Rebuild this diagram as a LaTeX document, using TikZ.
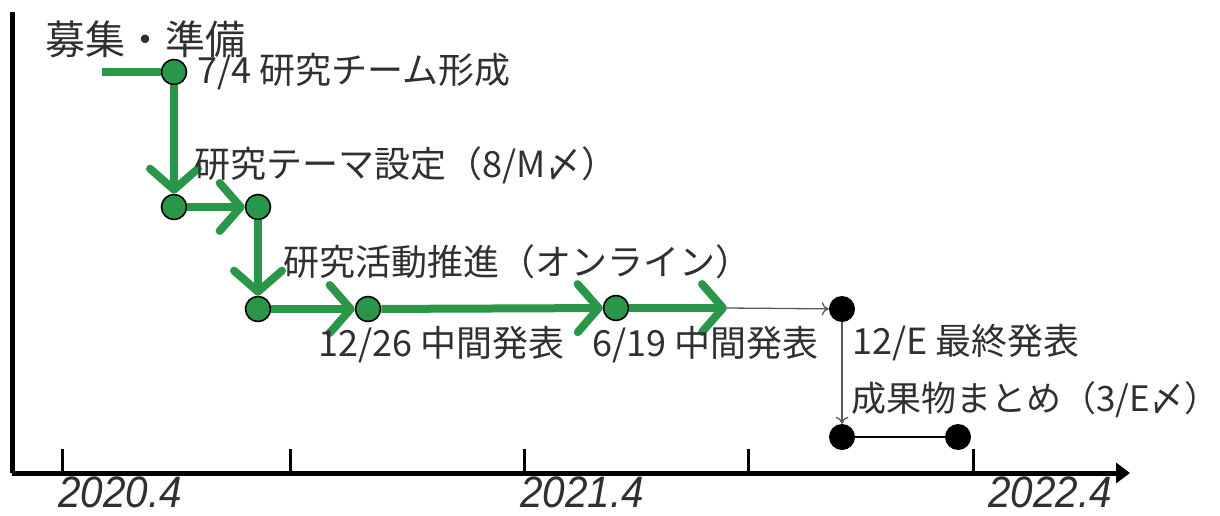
\documentclass[tikz,border=0pt]{standalone}
\usepackage{fontspec}
\setmainfont{Noto Sans CJK JP}
\newfontfamily\yearfont{Liberation Sans}
\usetikzlibrary{arrows.meta}
\definecolor{grn}{RGB}{42,150,72}
\definecolor{txt}{RGB}{48,48,48}
\begin{document}
\begin{tikzpicture}[x=1pt,y=-1pt,
  gdot/.style={circle,draw=black,line width=1.6pt,fill=grn,minimum size=25pt,inner sep=0pt},
  bdot/.style={circle,fill=black,minimum size=26pt,inner sep=0pt},
  lbl/.style={anchor=west,inner sep=0pt,text=txt,font=\fontsize{36}{40}\selectfont},
  yearlbl/.style={inner sep=0pt,text=txt,font=\yearfont\itshape\fontsize{44}{46}\selectfont},
  garrow/.style={draw=grn,line width=8pt,-{Straight Barb[length=21pt,width=48pt,round]}},
  gline/.style={draw=grn,line width=8pt},
  thinarrow/.style={draw=black!65,line width=1.3pt,-{To[length=7pt,width=13pt]}},
  thinline/.style={draw=black,line width=1.5pt},
  axisline/.style={draw=black,line width=5pt},
  tickline/.style={draw=black,line width=3pt},
]
\useasboundingbox (0,0) rectangle (1220,516);

% axes
\coordinate (ytop) at (12,12);
\coordinate (orig) at (12,473);
\coordinate (xend) at (1130,473);
\draw[axisline] (ytop) -- (orig);
\draw[axisline,-{Triangle[length=14pt,width=20pt]}] (orig) -- (xend);
\foreach \x in {62,290,524,748,973}{
  \draw[tickline] (\x,449) -- (\x,473);
}
\node[yearlbl] (y1) at (120,492) {\scalebox{0.92}[1]{2020.4}};
\node[yearlbl] (y2) at (582,492) {\scalebox{0.92}[1]{2021.4}};
\node[yearlbl] (y3) at (1050,492) {\scalebox{0.92}[1]{2022.4}};

% dots
\node[gdot] (n1) at (174,72) {};
\node[gdot] (n2) at (174,207) {};
\node[gdot] (n3) at (258,207) {};
\node[gdot] (n4) at (258,309) {};
\node[gdot] (n5) at (368,309) {};
\node[gdot] (n6) at (616,308) {};
\node[bdot] (b1) at (842,309) {};
\node[bdot] (b2) at (842,437) {};
\node[bdot] (b3) at (958,437) {};

\coordinate (s) at (102,72);
\coordinate (m) at (727,308);

% connectors
\draw[gline] (s) -- (n1);
\draw[garrow] (n1) -- (n2);
\draw[garrow] (n2) -- (n3);
\draw[garrow] (n3) -- (n4);
\draw[garrow] (n4) -- (n5);
\draw[garrow] (n5) -- (n6);
\draw[garrow] (n6) -- (m);
\draw[thinarrow] (m) -- (b1);
\draw[thinarrow] (b1) -- (b2);
\draw[thinline] (b2) -- (b3);

% labels
\node[lbl,font=\fontsize{40}{44}\selectfont] (t0) at (45,39) {募集・準備};
\node[lbl] (t1) at (197,72) {7/4 研究チーム形成};
\node[lbl] (t2) at (194,165) {研究テーマ設定（8/M〆）};
\node[lbl] (t3) at (283,262) {研究活動推進（オンライン）};
\node[lbl] (t4) at (318,345) {12/26 中間発表};
\node[lbl] (t5) at (592,345) {6/19 中間発表};
\node[lbl] (t6) at (852,343) {12/E 最終発表};
\node[lbl,font=\fontsize{35}{40}\selectfont] (t7) at (851,400) {成果物まとめ（3/E〆）};
\end{tikzpicture}
\end{document}
